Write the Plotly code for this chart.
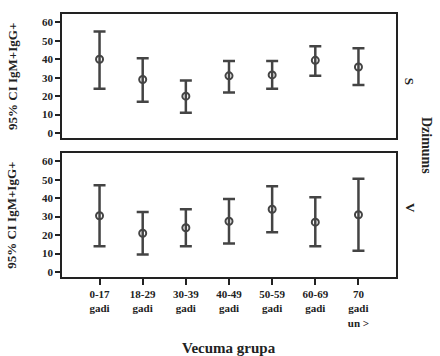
import plotly.graph_objects as go

categories = ["0-17<br>gadi", "18-29<br>gadi", "30-39<br>gadi", "40-49<br>gadi",
              "50-59<br>gadi", "60-69<br>gadi", "70<br>gadi<br>un >"]
s_mean = [40, 29, 20, 31, 31.5, 39.4, 35.8]
s_upper = [55, 40.5, 28.5, 39, 39, 47, 46]
s_lower = [24, 17, 11, 22, 24, 31, 26]
v_mean = [30.5, 21, 24, 27.5, 34, 27, 31]
v_upper = [47, 32.5, 34, 39.5, 46.5, 40.5, 50.5]
v_lower = [14, 9.5, 14, 15.5, 21.5, 14, 11.5]
y_ticks = [0, 10, 20, 30, 40, 50, 60]

col = "#444444"
font = "Liberation Serif"
xs = list(range(len(categories)))

fig = go.Figure()

def add(mean, up, lo, xa, ya):
    fig.add_trace(go.Scatter(
        x=xs, y=mean, mode="markers", xaxis=xa, yaxis=ya,
        marker=dict(symbol="circle-open", size=7, color=col, line=dict(width=2, color=col)),
        error_y=dict(type="data", symmetric=False,
                     array=[u - m for u, m in zip(up, mean)],
                     arrayminus=[m - l for m, l in zip(mean, lo)],
                     color=col, thickness=2.5, width=6),
        showlegend=False))

add(s_mean, s_upper, s_lower, "x2", "y2")
add(v_mean, v_upper, v_lower, "x", "y")

yax = dict(range=[-2.7, 64.5], tickvals=y_ticks, ticktext=[f"<b>{t}</b>" for t in y_ticks],
           ticks="outside", ticklen=5,
           tickwidth=1.5, tickcolor="#222", showgrid=False, zeroline=False,
           showline=True, linecolor="#222", linewidth=1.5, mirror=True,
           tickfont=dict(family=font, size=11, color="#222"))
xrng = [-0.87, 6.87]

fig.update_layout(
    width=440, height=356, margin=dict(l=62, r=44, t=12, b=79),
    plot_bgcolor="white", paper_bgcolor="white",
    font=dict(family=font, color="#222"),
    xaxis=dict(range=xrng, tickvals=xs, ticktext=[f"<b>{c}</b>" for c in categories],
               ticks="outside", ticklen=6, tickwidth=1.5, tickcolor="#222",
               showgrid=False, zeroline=False, showline=True, linecolor="#222",
               linewidth=1.5, mirror=True, anchor="y",
               tickfont=dict(family=font, size=11, color="#222")),
    xaxis2=dict(range=xrng, showticklabels=False, ticks="", showgrid=False,
                zeroline=False, showline=True, linecolor="#222", linewidth=1.5,
                mirror=True, anchor="y2"),
    yaxis=dict(domain=[0, 0.4717], anchor="x", **yax),
    yaxis2=dict(domain=[0.5283, 1], anchor="x2", **yax),
)

ann = []
for yc in [0.764, 0.236]:
    ann.append(dict(text="<b>95% CI IgM+IgG+</b>", xref="paper", yref="paper",
                    x=-0.15, y=yc, textangle=-90, showarrow=False,
                    font=dict(family=font, size=13, color="#222"),
                    xanchor="center", yanchor="middle"))
ann.append(dict(text="<b>S</b>", xref="paper", yref="paper", x=1.07, y=0.764,
                textangle=90, showarrow=False, font=dict(family=font, size=13, color="#222")))
ann.append(dict(text="<b>V</b>", xref="paper", yref="paper", x=1.07, y=0.236,
                textangle=90, showarrow=False, font=dict(family=font, size=13, color="#222")))
ann.append(dict(text="<b>Dzimums</b>", xref="paper", yref="paper", x=1.12, y=0.5,
                textangle=90, showarrow=False, font=dict(family=font, size=14, color="#222")))
ann.append(dict(text="<b>Vecuma grupa</b>", xref="paper", yref="paper", x=0.5, y=-0.27,
                showarrow=False, yanchor="middle",
                font=dict(family=font, size=15, color="#222")))
fig.update_layout(annotations=ann)

fig.write_html("out.html")
